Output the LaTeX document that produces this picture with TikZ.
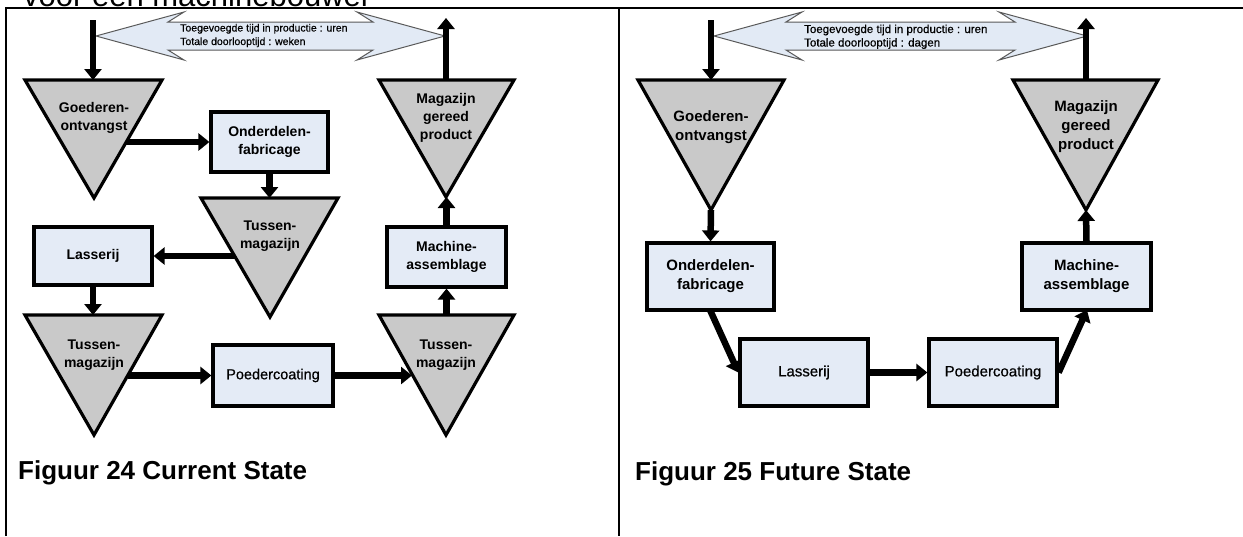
\documentclass[tikz,border=0pt]{standalone}
\usepackage{fontspec}
\setmainfont{Liberation Sans}
\newfontfamily\semibold[FakeBold=0.5]{Liberation Sans}
\usetikzlibrary{arrows.meta}
\definecolor{boxfill}{HTML}{E4EBF6}
\definecolor{trifill}{HTML}{C9C9C9}
\definecolor{barfill}{HTML}{E2EAF5}
\begin{document}
\begin{tikzpicture}[x=1pt,y=-1pt,
  box/.style={draw=black, line width=3.2pt, fill=boxfill, inner sep=0pt, align=center},
  tri/.style={draw=black, line width=3.2pt, fill=trifill, line join=miter},
  lbl/.style={align=center, inner sep=0pt},
  bl/.style={font=\bfseries\fontsize{14}{18}\selectfont},
  br/.style={font=\bfseries\fontsize{15}{19}\selectfont},
  plainl/.style={font=\semibold\fontsize{14.5}{18}\selectfont},
  flow/.style={line width=6.5pt, draw=black, -{Triangle[width=17pt,length=11pt]}},
  barrow/.style={draw=black!65, line width=1pt, fill=barfill, line join=miter},
  bartext/.style={anchor=base west, inner sep=0pt},
  caption/.style={anchor=base west, inner sep=0pt, font=\bfseries\fontsize{26}{30}\selectfont},
  frame/.style={line width=2pt, draw=black}]
\useasboundingbox (0,0) rectangle (1243,536);
\fill[white] (0,0) rectangle (1243,536);
\clip (0,0) rectangle (1243,536);
% cut-off heading
\node[anchor=base west, inner sep=0pt, font=\fontsize{31}{34}\selectfont] (kop) at (23,6.5) {voor een machinebouwer};
% table frame
\coordinate (fbl) at (6,536);
\coordinate (ftl) at (6,8);
\coordinate (ftr) at (1243,8);
\coordinate (fmt) at (619,8);
\coordinate (fmb) at (619,536);
\draw[frame] (fbl) -- (ftl) -- (ftr);
\draw[frame] (fmt) -- (fmb);

% ================= LEFT: Current State =================
\draw[barrow] (96,36) -- (184,12) -- (168,22) -- (373,22) -- (357,12) -- (445,36)
  -- (357,60) -- (373,50) -- (168,50) -- (184,60) -- cycle;
\node[bartext, font=\semibold\fontsize{10.5}{12}\selectfont] (lt1) at (180,31.5) {Toegevoegde tijd in productie : uren};
\node[bartext, font=\semibold\fontsize{10.5}{12}\selectfont] (lt2) at (180,45) {Totale doorlooptijd : weken};

% triangles
\draw[tri] (25,80) -- (162,80) -- (94,198) -- cycle;
\node[lbl,bl] (lgoed) at (94,118) {Goederen-\\ontvangst};
\draw[tri] (379,80) -- (514,80) -- (446,197) -- cycle;
\node[lbl,bl] (lmag) at (446,117.5) {Magazijn\\gereed\\product};
\draw[tri] (201,198) -- (338,198) -- (270,317) -- cycle;
\node[lbl,bl] (lt1m) at (270,236.5) {Tussen-\\magazijn};
\draw[tri] (25,315) -- (162,315) -- (94,435) -- cycle;
\node[lbl,bl] (lt2m) at (94,355) {Tussen-\\magazijn};
\draw[tri] (379,315) -- (514,315) -- (446,435) -- cycle;
\node[lbl,bl] (lt3m) at (446,355) {Tussen-\\magazijn};

% boxes
\node[box,bl, minimum width=117pt, minimum height=60pt] (lond) at (269.5,142) {Onderdelen-\\fabricage};
\node[box,bl, minimum width=118pt, minimum height=58pt] (llas) at (93,256) {Lasserij};
\node[box,plainl, minimum width=120pt, minimum height=61pt] (lpoe) at (273,375.5) {Poedercoating};
\node[box,bl, minimum width=119pt, minimum height=60pt] (lmac) at (446.5,257) {Machine-\\assemblage};

% connector end points on triangles
\coordinate (lin0) at (93,20);
\coordinate (lgoedtop) at (93,80);
\coordinate (lmagtop) at (446,80);
\coordinate (lout1) at (446,18);
\coordinate (lgoedR) at (126,142);
\coordinate (lt1top) at (269.5,198);
\coordinate (lt1L) at (235,256);
\coordinate (lt2top) at (93,315);
\coordinate (lt2R) at (128,375.5);
\coordinate (lt3L) at (412,375.5);
\coordinate (lt3top) at (446.5,315);
\coordinate (lmagtip) at (446.5,197);

\draw[flow] (lin0) -- (lgoedtop);
\draw[flow] (lmagtop) -- (lout1);
\draw[flow] (lgoedR) -- (lond.west);
\draw[flow] (lond.south) -- (lt1top);
\draw[flow] (lt1L) -- (llas.east);
\draw[flow] (llas.south) -- (lt2top);
\draw[flow] (lt2R) -- (lpoe.west);
\draw[flow] (lpoe.east) -- (lt3L);
\draw[flow] (lt3top) -- (lmac.south);
\draw[flow] (lmac.north) -- (lmagtip);

\node[caption] (cap24) at (18,479) {Figuur 24 Current State};

% ================= RIGHT: Future State =================
\draw[barrow] (714,36) -- (802,12) -- (786,22) -- (1015,22) -- (999,12) -- (1087,36)
  -- (999,60) -- (1015,50) -- (786,50) -- (802,60) -- cycle;
\node[bartext, font=\semibold\fontsize{11.5}{13}\selectfont] (rt1) at (804,33) {Toegevoegde tijd in productie : uren};
\node[bartext, font=\semibold\fontsize{11.5}{13}\selectfont] (rt2) at (804,46.5) {Totale doorlooptijd : dagen};

\draw[tri] (638,80) -- (784,80) -- (711,210) -- cycle;
\node[lbl,br] (rgoed) at (711,127.5) {Goederen-\\ontvangst};
\draw[tri] (1013,80) -- (1158,80) -- (1086,210) -- cycle;
\node[lbl,br] (rmag) at (1086,127) {Magazijn\\gereed\\product};

\node[box,br, minimum width=127pt, minimum height=67pt] (rond) at (710.5,276.5) {Onderdelen-\\fabricage};
\node[box,br, minimum width=129pt, minimum height=67pt] (rmac) at (1086.5,276.5) {Machine-\\assemblage};
\node[box,plainl, font=\semibold\fontsize{15}{18}\selectfont, minimum width=128pt, minimum height=67pt] (rlas) at (804,372.5) {Lasserij};
\node[box,plainl, font=\semibold\fontsize{15}{18}\selectfont, minimum width=128pt, minimum height=67pt] (rpoe) at (993,372.5) {Poedercoating};

\coordinate (rin0) at (711,20);
\coordinate (rgoedtop) at (711,80);
\coordinate (rmagtop) at (1086,80);
\coordinate (rout1) at (1086,18);
\coordinate (rgoedtip) at (711,210);
\coordinate (rmagtip) at (1086,210);
\coordinate (rondS) at (710,310);
\coordinate (rmacS) at (1087,310);

\draw[flow] (rin0) -- (rgoedtop);
\draw[flow] (rmagtop) -- (rout1);
\draw[flow] (rgoedtip) -- (rond.north);
\draw[flow] (rondS) -- (rlas.west);
\draw[flow] (rlas.east) -- (rpoe.west);
\draw[flow] (rpoe.east) -- (rmacS);
\draw[flow] (rmac.north) -- (rmagtip);

\node[caption] (cap25) at (635,480) {Figuur 25 Future State};
\end{tikzpicture}
\end{document}
